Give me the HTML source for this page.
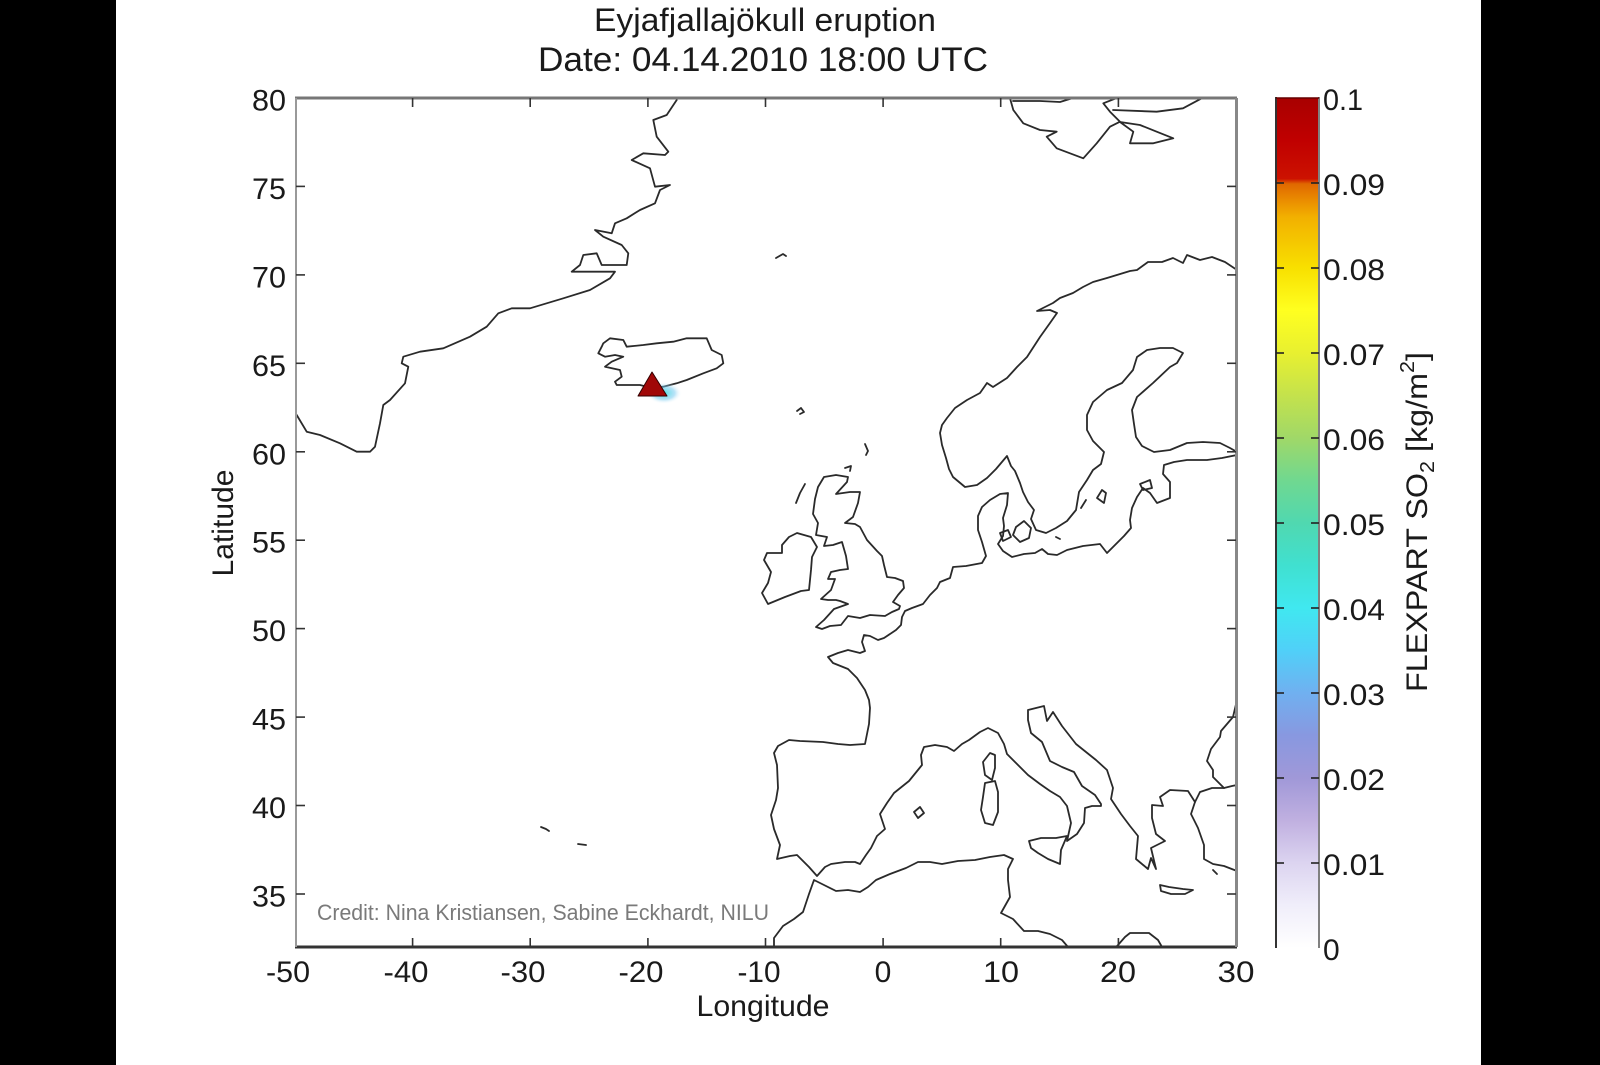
<!DOCTYPE html>
<html>
<head>
<meta charset="utf-8">
<style>
html,body{margin:0;padding:0;background:#fff;}
svg{display:block;}
text{font-family:"Liberation Sans",Arial,sans-serif;fill:#1a1a1a;}
</style>
</head>
<body>
<svg width="1600" height="1065" viewBox="0 0 1600 1065" xmlns="http://www.w3.org/2000/svg">
<defs>
<clipPath id="ax"><rect x="296" y="98" width="940" height="849"/></clipPath>
<linearGradient id="cb" x1="0" y1="0" x2="0" y2="1">
<stop offset="0" stop-color="#a80000"/>
<stop offset="0.05" stop-color="#c00000"/>
<stop offset="0.095" stop-color="#cc1200"/>
<stop offset="0.101" stop-color="#e06800"/>
<stop offset="0.12" stop-color="#ea8c00"/>
<stop offset="0.14" stop-color="#f2b000"/>
<stop offset="0.2" stop-color="#f8e000"/>
<stop offset="0.25" stop-color="#ffff20"/>
<stop offset="0.3" stop-color="#e8f030"/>
<stop offset="0.35" stop-color="#c4e24c"/>
<stop offset="0.4" stop-color="#a0d868"/>
<stop offset="0.45" stop-color="#70d890"/>
<stop offset="0.5" stop-color="#50d8b0"/>
<stop offset="0.55" stop-color="#40e0d0"/>
<stop offset="0.6" stop-color="#40e8f0"/>
<stop offset="0.65" stop-color="#50d0f8"/>
<stop offset="0.7" stop-color="#70b0f0"/>
<stop offset="0.75" stop-color="#8898e0"/>
<stop offset="0.8" stop-color="#a098d8"/>
<stop offset="0.85" stop-color="#c0b0e0"/>
<stop offset="0.9" stop-color="#dcd4f0"/>
<stop offset="0.95" stop-color="#f0eefa"/>
<stop offset="1" stop-color="#ffffff"/>
</linearGradient>
<radialGradient id="glow">
<stop offset="0" stop-color="#40e0e0" stop-opacity="0.9"/>
<stop offset="0.6" stop-color="#70c8f0" stop-opacity="0.5"/>
<stop offset="1" stop-color="#ffffff" stop-opacity="0"/>
</radialGradient>
</defs>

<rect x="0" y="0" width="1600" height="1065" fill="#fff"/>
<rect x="0" y="0" width="116" height="1065" fill="#000"/>
<rect x="1481" y="0" width="119" height="1065" fill="#000"/>

<!-- Title -->
<text x="594" y="31" font-size="32" textLength="342" lengthAdjust="spacingAndGlyphs">Eyjafjallajökull eruption</text>
<text x="538" y="71" font-size="34" textLength="450" lengthAdjust="spacingAndGlyphs">Date: 04.14.2010 18:00 UTC</text>

<!-- Coastlines -->
<g clip-path="url(#ax)" fill="none" stroke="#2a2a2a" stroke-width="1.8" stroke-linejoin="round" stroke-linecap="round">
<!-- Greenland -->
<path d="M676.7,100 L666.7,115 L653.3,120 L656.7,136.7 L668.3,151.7 L665,155 L643.3,153.3 L631.7,160 L650,168.3 L655,186.7 L670,185 L660,190 L655,203.3 L640,210 L626.7,218.3 L615,223.3 L611.7,233.3 L595,230 L603.3,236.7 L621.7,245 L628.3,253.3 L626.7,265 L601.7,265 L596.7,253.3 L583.3,255 L580,265 L571.7,271.7 L600,271.7 L615,271.7 L610,278.3 L590,290 L563.3,298.3 L530,308.3 L511.7,308.3 L498.3,313.3 L486.7,326.7 L470,336.7 L443.3,348.3 L420,351.7 L403.3,356.7 L401.7,363.3 L408.3,366.7 L405,383.3 L390,400 L383.3,405 L380,423.3 L375,446.7 L370,451.7 L356.7,451.7 L340,443.3 L320,435 L306.7,431.7 L296.7,415 L293,410"/>
<!-- Iceland -->
<path d="M603.3,343.3 L610,338.3 L623.3,340 L626.7,346.7 L643.3,345 L656.7,343.3 L673.3,341.7 L686.7,338.3 L706.7,338.3 L711.7,350 L721.7,355 L723.3,363.3 L716.7,368.3 L703.3,373.3 L686.7,380 L676.7,383.3 L663.3,386.7 L653.3,388.3 L640,385 L616.7,385 L615,381.7 L621.7,376.7 L620,370 L605,366.7 L611.7,361.7 L623.3,356.7 L615,355 L605,356.7 L598.3,353.3 L601.7,346.7 Z"/>
<!-- Jan Mayen, Faroes, Shetland, Orkney, Hebrides -->
<path d="M776,258 L783,254 L786,256"/>
<path d="M797,411 L801,408 L804,412 L800,414"/>
<path d="M865,444 L868,451 L866,455"/>
<path d="M845,468 L851,466 L850,471"/>
<path d="M805,484 L800,493 L796,503"/>
<!-- Azores -->
<path d="M541,827 L546,829 L549,831"/>
<path d="M578,844 L586,845"/>
<!-- Svalbard -->
<path d="M1010,98.3 L1013.3,110 L1023.3,123.3 L1040,130 L1056.7,131.7 L1046.7,136.7 L1056.7,148.3 L1083.3,158.3 L1096.7,143.3 L1110,126.7 L1120,121.7 L1110,111.7 L1103.3,103.3 L1116.7,98"/>
<path d="M1013,101 L1040,101 L1060,102 L1073,98"/>
<path d="M1120,122 L1133.3,131.7 L1130,143.3 L1153.3,143.3 L1173.3,138.3 L1156.7,131.7 L1140,125 Z"/>
<path d="M1113,110 L1156.7,111.7 L1183,108.3 L1201.7,98.3"/>
<!-- Scandinavia -->
<path d="M1237,270 L1225,262 L1212,257 L1200,260 L1187,255 L1183,263 L1173,258 L1162,262 L1148,262 L1137,270 L1130,271 L1107,278 L1093,282 L1083,287 L1073,293 L1060,298 L1053,303 L1037,311 L1050,310 L1057,313 L1050,323 L1040,337 L1027,357 L1017,367 L1007,378 L993,387 L987,383 L980,393 L967,400 L955,408 L947,418 L942,425 L940,433 L942,445 L946,458 L949,469 L953,477 L965,487 L977,485 L987,478 L996,469 L1007,456 L1011,466 L1015,471 L1020,483 L1023,492 L1028,502 L1034,510 L1031,519 L1036,530 L1046,533 L1056,528 L1067,521 L1076,510 L1079,492 L1087,480 L1093,470 L1101,464 L1104,452 L1093,441 L1087,430 L1087,415 L1093,402 L1107,390 L1122,383 L1133,370 L1137,357 L1147,350 L1160,348 L1173,348 L1183,353 L1177,363 L1170,367 L1153,383 L1137,397 L1132,410 L1134,424 L1136,437 L1142,446 L1154,452 L1170,450 L1187,443 L1203,442 L1220,443 L1230,448 L1237,452"/>
<!-- Continental Europe -->
<path d="M1237,455 L1222,458 L1207,460 L1187,460 L1174,462 L1164,465 L1163,474 L1170,482 L1170,498 L1157,503 L1150,493 L1143,488 L1137,497 L1132,508 L1130,520 L1131,528 L1124,536 L1114,546 L1107,553 L1100,544 L1083,546 L1067,550 L1057,555 L1048,554 L1042,549 L1035,553 L1024,554 L1012,557 L1003,551 L998,544 L1003,536 L1004,526 L1003,518 L1007,505 L1008,493 L1000,494 L990,500 L982,507 L978,516 L978,530 L982,542 L986,556 L982,563 L966,566 L953,567 L950,578 L940,582 L937,588 L930,595 L923,604 L912,608 L905,611 L902,617 L901,625 L896,630 L884,638 L878,640 L870,636 L864,635 L862,642 L865,651 L860,653 L848,650 L838,653 L828,657 L833,663 L848,669 L857,678 L865,690 L869,700 L870,708 L869,724 L865,744 L850,745 L838,744 L823,742 L800,741 L789,740 L778,746 L774,753 L777,765 L778,788 L776,800 L771,815 L774,829 L780,845 L777,859 L790,856 L797,855 L809,867 L817,876 L825,867 L831,864 L845,862 L855,862 L860,864 L866,855 L871,848 L877,836 L885,829 L880,814 L887,803 L894,793 L909,781 L922,765 L921,755 L924,747 L935,745 L947,747 L954,751 L962,744 L969,740 L980,732 L988,728 L998,733 L1004,744 L1007,754 L1018,765 L1028,775 L1040,784 L1050,791 L1060,797 L1067,806 L1071,823 L1067,841 L1077,834 L1084,823 L1085,808 L1092,806 L1101,806 L1101,804 L1095,795 L1082,786 L1074,772 L1062,767 L1050,761 L1042,742 L1031,733 L1028,720 L1028,710 L1036,708 L1044,706 L1047,721 L1053,712 L1062,726 L1076,744 L1096,760 L1107,770 L1113,788 L1111,799 L1121,814 L1130,826 L1138,836 L1136,859 L1148,869 L1151,858 L1156,869 L1151,848 L1165,841 L1156,834 L1152,818 L1152,805 L1163,806 L1160,797 L1170,790 L1188,791 L1195,802 L1200,792 L1212,788 L1224,788 L1232,786 L1237,785"/>
<path d="M1195,802 L1191,814 L1198,828 L1204,845 L1204,859 L1213,864 L1224,866 L1237,871"/>
<path d="M1237,700 L1233,717 L1221,731 L1220,737 L1211,749 L1207,761 L1213,770 L1213,777 L1224,788"/>
<!-- North Africa -->
<path d="M774,947 L774,938 L783,926 L794,919 L803,912 L809,894 L814,880 L822,884 L836,891 L848,890 L860,892 L868,887 L876,880 L890,874 L906,868 L918,862 L930,862 L942,864 L958,861 L975,860 L990,857 L1004,855 L1013,859 L1008,869 L1008,880 L1010,897 L1001,913 L1013,919 L1024,931 L1038,931 L1050,934 L1062,940 L1068,947"/>
<path d="M1116,947 L1118,945 L1125,937 L1130,933 L1149,933 L1158,940 L1162,947"/>
<!-- Great Britain -->
<path d="M824,477 L836,475 L848,477 L847,482 L836,494 L850,492 L860,492 L858,503 L853,517 L845,523 L855,524 L860,527 L867,540 L877,551 L882,556 L884,565 L887,577 L895,578 L903,581 L904,588 L898,595 L893,602 L900,606 L899,609 L892,612 L885,616 L870,615 L860,618 L848,616 L841,625 L830,626 L822,629 L816,627 L824,620 L834,609 L848,604 L840,601 L836,600 L828,600 L821,599 L831,590 L835,579 L828,579 L831,572 L840,570 L848,569 L846,556 L842,542 L833,545 L824,546 L827,537 L816,535 L818,523 L813,514 L815,499 L818,487 Z"/>
<!-- Ireland -->
<path d="M797,533 L811,537 L817,547 L812,557 L811,570 L809,590 L801,591 L785,597 L768,604 L762,593 L768,583 L771,572 L764,560 L767,553 L782,553 L782,545 L789,537 Z"/>
<!-- Baltic & Danish islands -->
<path d="M1097,498 L1102,490 L1106,493 L1104,503 Z"/>
<path d="M1081,508 L1086,500"/>
<path d="M1140,484 L1150,480 L1152,488 L1143,490 Z"/>
<path d="M1016,527 L1024,521 L1031,528 L1029,538 L1020,542 L1013,535 Z"/>
<path d="M1000,533 L1008,530 L1011,537 L1003,541 Z"/>
<path d="M1056,537 L1060,539"/>
<!-- Mediterranean islands -->
<path d="M914,812 L920,807 L924,813 L918,818 Z"/>
<path d="M990,753 L995,755 L995,768 L992,780 L985,775 L983,762 Z"/>
<path d="M985,783 L995,781 L998,792 L998,812 L993,825 L985,823 L981,810 L983,797 Z"/>
<path d="M1029,841 L1041,838 L1056,838 L1067,836 L1061,850 L1060,864 L1048,859 L1038,853 L1031,848 Z"/>
<path d="M1160,885 L1169,887 L1183,889 L1193,890 L1185,894 L1171,894 L1161,891 Z"/>
<path d="M1213,870 L1217,874"/>
<!-- Volcano -->
<ellipse cx="664" cy="393" rx="18" ry="11" fill="url(#glow)" stroke="none"/>
<polygon points="652,372 638,396 667,396" fill="#a00808" stroke="#300" stroke-width="1"/>
</g>

<!-- Axes frame -->
<line x1="295" y1="98" x2="1237" y2="98" stroke="#777" stroke-width="3"/>
<line x1="295" y1="947" x2="1237" y2="947" stroke="#333" stroke-width="3"/>
<line x1="296" y1="98" x2="296" y2="947" stroke="#999" stroke-width="2"/>
<line x1="1236.5" y1="98" x2="1236.5" y2="947" stroke="#888" stroke-width="3"/>

<!-- Ticks -->
<g stroke="#333" stroke-width="1.6">
<line x1="412.6" y1="947" x2="412.6" y2="938"/><line x1="530.2" y1="947" x2="530.2" y2="938"/><line x1="647.9" y1="947" x2="647.9" y2="938"/><line x1="765.5" y1="947" x2="765.5" y2="938"/><line x1="883.1" y1="947" x2="883.1" y2="938"/><line x1="1000.7" y1="947" x2="1000.7" y2="938"/><line x1="1118.4" y1="947" x2="1118.4" y2="938"/>
<line x1="412.6" y1="98" x2="412.6" y2="107"/><line x1="530.2" y1="98" x2="530.2" y2="107"/><line x1="647.9" y1="98" x2="647.9" y2="107"/><line x1="765.5" y1="98" x2="765.5" y2="107"/><line x1="883.1" y1="98" x2="883.1" y2="107"/><line x1="1000.7" y1="98" x2="1000.7" y2="107"/><line x1="1118.4" y1="98" x2="1118.4" y2="107"/>
<line x1="296" y1="186.4" x2="305" y2="186.4"/><line x1="296" y1="274.9" x2="305" y2="274.9"/><line x1="296" y1="363.3" x2="305" y2="363.3"/><line x1="296" y1="451.8" x2="305" y2="451.8"/><line x1="296" y1="540.2" x2="305" y2="540.2"/><line x1="296" y1="628.6" x2="305" y2="628.6"/><line x1="296" y1="717.1" x2="305" y2="717.1"/><line x1="296" y1="805.5" x2="305" y2="805.5"/><line x1="296" y1="894" x2="305" y2="894"/>
<line x1="1236" y1="186.4" x2="1227" y2="186.4"/><line x1="1236" y1="274.9" x2="1227" y2="274.9"/><line x1="1236" y1="363.3" x2="1227" y2="363.3"/><line x1="1236" y1="451.8" x2="1227" y2="451.8"/><line x1="1236" y1="540.2" x2="1227" y2="540.2"/><line x1="1236" y1="628.6" x2="1227" y2="628.6"/><line x1="1236" y1="717.1" x2="1227" y2="717.1"/><line x1="1236" y1="805.5" x2="1227" y2="805.5"/><line x1="1236" y1="894" x2="1227" y2="894"/>
</g>

<!-- X tick labels -->
<g font-size="30" text-anchor="middle">
<text x="288" y="982" textLength="44" lengthAdjust="spacingAndGlyphs">-50</text>
<text x="406" y="982" textLength="45" lengthAdjust="spacingAndGlyphs">-40</text>
<text x="523" y="982" textLength="45" lengthAdjust="spacingAndGlyphs">-30</text>
<text x="641" y="982" textLength="45" lengthAdjust="spacingAndGlyphs">-20</text>
<text x="759" y="982" textLength="43" lengthAdjust="spacingAndGlyphs">-10</text>
<text x="883" y="982">0</text>
<text x="1001" y="982" textLength="36" lengthAdjust="spacingAndGlyphs">10</text>
<text x="1118" y="982" textLength="36" lengthAdjust="spacingAndGlyphs">20</text>
<text x="1236" y="982" textLength="37" lengthAdjust="spacingAndGlyphs">30</text>
</g>

<!-- Y tick labels -->
<g font-size="30" text-anchor="end">
<text x="286" y="110.5" textLength="34" lengthAdjust="spacingAndGlyphs">80</text>
<text x="286" y="198.9" textLength="34" lengthAdjust="spacingAndGlyphs">75</text>
<text x="286" y="287.4" textLength="34" lengthAdjust="spacingAndGlyphs">70</text>
<text x="286" y="375.8" textLength="34" lengthAdjust="spacingAndGlyphs">65</text>
<text x="286" y="464.3" textLength="34" lengthAdjust="spacingAndGlyphs">60</text>
<text x="286" y="552.7" textLength="34" lengthAdjust="spacingAndGlyphs">55</text>
<text x="286" y="641.1" textLength="34" lengthAdjust="spacingAndGlyphs">50</text>
<text x="286" y="729.6" textLength="34" lengthAdjust="spacingAndGlyphs">45</text>
<text x="286" y="818" textLength="34" lengthAdjust="spacingAndGlyphs">40</text>
<text x="286" y="906.5" textLength="34" lengthAdjust="spacingAndGlyphs">35</text>
</g>

<!-- Axis labels -->
<text x="763" y="1016" font-size="30" text-anchor="middle" textLength="133" lengthAdjust="spacingAndGlyphs">Longitude</text>
<text transform="translate(233,523) rotate(-90)" x="0" y="0" font-size="30" text-anchor="middle" textLength="107" lengthAdjust="spacingAndGlyphs">Latitude</text>

<!-- Credit -->
<text x="317" y="920" font-size="22" style="fill:#7a7a7a" textLength="452" lengthAdjust="spacingAndGlyphs">Credit: Nina Kristiansen, Sabine Eckhardt, NILU</text>

<!-- Colorbar -->
<rect x="1276" y="98" width="43" height="850" fill="url(#cb)"/>
<line x1="1276" y1="97" x2="1276" y2="948" stroke="#333" stroke-width="2"/>
<line x1="1319" y1="97" x2="1319" y2="948" stroke="#808080" stroke-width="2"/>
<line x1="1276" y1="98" x2="1319" y2="98" stroke="#600" stroke-width="1.5"/>
<g stroke="#222" stroke-width="1.6">
<line x1="1276" y1="183" x2="1284" y2="183"/><line x1="1319" y1="183" x2="1311" y2="183"/>
<line x1="1276" y1="268" x2="1284" y2="268"/><line x1="1319" y1="268" x2="1311" y2="268"/>
<line x1="1276" y1="353" x2="1284" y2="353"/><line x1="1319" y1="353" x2="1311" y2="353"/>
<line x1="1276" y1="438" x2="1284" y2="438"/><line x1="1319" y1="438" x2="1311" y2="438"/>
<line x1="1276" y1="523" x2="1284" y2="523"/><line x1="1319" y1="523" x2="1311" y2="523"/>
<line x1="1276" y1="608" x2="1284" y2="608"/><line x1="1319" y1="608" x2="1311" y2="608"/>
<line x1="1276" y1="693" x2="1284" y2="693"/><line x1="1319" y1="693" x2="1311" y2="693"/>
<line x1="1276" y1="778" x2="1284" y2="778"/><line x1="1319" y1="778" x2="1311" y2="778"/>
<line x1="1276" y1="863" x2="1284" y2="863"/><line x1="1319" y1="863" x2="1311" y2="863"/>
</g>
<g font-size="30">
<text x="1323" y="110" textLength="40" lengthAdjust="spacingAndGlyphs">0.1</text>
<text x="1323" y="195" textLength="62" lengthAdjust="spacingAndGlyphs">0.09</text>
<text x="1323" y="280" textLength="62" lengthAdjust="spacingAndGlyphs">0.08</text>
<text x="1323" y="365" textLength="62" lengthAdjust="spacingAndGlyphs">0.07</text>
<text x="1323" y="450" textLength="62" lengthAdjust="spacingAndGlyphs">0.06</text>
<text x="1323" y="535" textLength="62" lengthAdjust="spacingAndGlyphs">0.05</text>
<text x="1323" y="620" textLength="62" lengthAdjust="spacingAndGlyphs">0.04</text>
<text x="1323" y="705" textLength="62" lengthAdjust="spacingAndGlyphs">0.03</text>
<text x="1323" y="790" textLength="62" lengthAdjust="spacingAndGlyphs">0.02</text>
<text x="1323" y="875" textLength="62" lengthAdjust="spacingAndGlyphs">0.01</text>
<text x="1323" y="960">0</text>
</g>
<text transform="translate(1427,522) rotate(-90)" x="0" y="0" font-size="30" text-anchor="middle" textLength="340" lengthAdjust="spacingAndGlyphs">FLEXPART SO<tspan font-size="20" dy="7">2</tspan><tspan dy="-7"> [kg/m</tspan><tspan font-size="20" dy="-13">2</tspan><tspan dy="13">]</tspan></text>
</svg>
</body>
</html>
